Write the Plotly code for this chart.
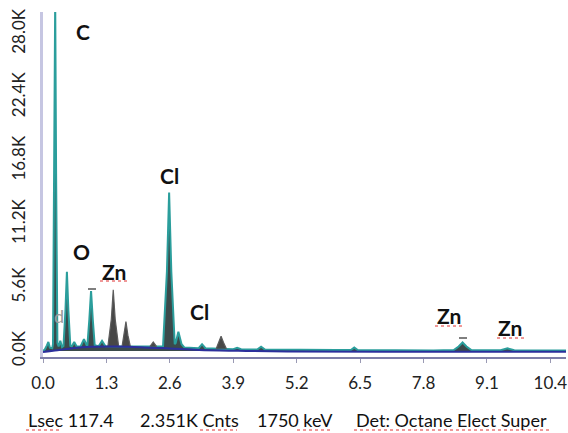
import plotly.graph_objects as go

# ---- data ----
energy_kev = [0.00, 0.04, 0.08, 0.11, 0.14, 0.19,
              0.205, 0.232, 0.25, 0.268, 0.295,
              0.32, 0.355, 0.39,
              0.42, 0.46, 0.49, 0.52, 0.56,
              0.59, 0.64, 0.69,
              0.77, 0.84, 0.90,
              0.91, 0.95, 0.985, 1.02, 1.06,
              1.14, 1.21, 1.28,
              1.60, 2.00, 2.40,
              2.46, 2.54, 2.585, 2.63, 2.70,
              2.72, 2.775, 2.84,
              2.90, 3.19, 3.26, 3.33,
              3.60, 3.90, 3.98, 4.06,
              4.39, 4.47, 4.55,
              5.00, 6.00, 6.31, 6.38, 6.45,
              7.00, 8.00, 8.42, 8.52, 8.60, 8.68, 8.78,
              9.38, 9.52, 9.66, 10.72]
counts = [0, 150, 500, 800, 300, 250,
          600, 16000, 31000, 16000, 700,
          400, 900, 350,
          450, 3600, 7000, 3600, 450,
          400, 800, 400,
          400, 1050, 450,
          500, 2800, 5300, 2800, 500,
          420, 900, 420,
          420, 400, 380,
          400, 7000, 14000, 7000, 600,
          700, 1700, 600,
          300, 250, 600, 250,
          200, 150, 280, 150,
          130, 380, 130,
          100, 80, 80, 300, 80,
          60, 50, 80, 400, 750, 400, 80,
          60, 230, 60, 40]

# grey (unlabelled) peaks, one closed shape each
grey_kev = [1.33, 1.40, 1.44, 1.48, 1.55, None,
            1.62, 1.66, 1.70, 1.74, 1.79, None,
            2.19, 2.26, 2.33, None,
            3.55, 3.60, 3.65, 3.70, 3.76]
grey_counts = [420, 2800, 5400, 2800, 420, None,
               400, 1400, 2600, 1400, 400, None,
               380, 800, 380, None,
               200, 750, 1300, 750, 200]

# background curve
bg_kev = [0.0, 0.3, 0.6, 1.0, 1.5, 2.0, 2.6, 3.2, 4.0, 5.0, 7.0, 10.72]
bg_counts = [-80, 60, 250, 370, 390, 340, 220, 90, 20, -40, -60, -70]

tick_kev = [0.0, 1.3, 2.6, 3.9, 5.2, 6.5, 7.8, 9.1, 10.4]
y_tickvals = [0, 5600, 11200, 16800, 22400, 28000]
y_ticktext = ["0.0K", "5.6K", "11.2K", "16.8K", "22.4K", "28.0K"]

peak_labels = ["C", "O", "Zn", "Cl", "Cl", "Zn", "Zn"]
label_kev = [0.81, 0.79, 1.445, 2.60, 3.20, 8.32, 9.57]
label_counts = [28200, 8800, 7050, 15500, 3500, 3150, 2080]

footer_texts = ["Lsec 117.4", "2.351K Cnts", "1750 keV", "Det: Octane Elect Super"]

# ---- layout helpers (pixel -> paper) ----
W, H = 568, 433
ML, MR, MT, MB = 43, 2, 12, 76
PW, PH = W - ML - MR, H - MT - MB
Y_RANGE = [-530, 29934]


def px(x):
    return (x - ML) / PW


def py(y):
    return (H - MB - y) / PH


FONT = "Lato, 'Open Sans', sans-serif"

fig = go.Figure()
fig.add_trace(go.Scatter(
    x=energy_kev, y=counts, mode="lines",
    line=dict(color="#2b9e9c", width=2),
    fill="tozeroy", fillcolor="#3b4a4b", hoverinfo="skip"))
fig.add_trace(go.Scatter(
    x=grey_kev, y=grey_counts, mode="lines",
    line=dict(color="#5c5c5c", width=1.2),
    fill="toself", fillcolor="#474747", hoverinfo="skip"))
fig.add_trace(go.Scatter(
    x=bg_kev, y=bg_counts, mode="lines", line_shape="spline",
    line=dict(color="#2c2f9c", width=2), hoverinfo="skip"))

for t, xk, yc in zip(peak_labels, label_kev, label_counts):
    fig.add_annotation(x=xk, y=yc, xref="x", yref="y", text="<b>" + t + "</b>",
                       showarrow=False, font=dict(family=FONT, size=21, color="#111"))

# faint grey glyph near the origin
fig.add_annotation(x=px(52), y=py(329), xref="paper", yref="paper", text="d",
                   showarrow=False, font=dict(family=FONT, size=18, color="#9a9a9a"))

footer_left = [26, 138, 255, 354]
for t, xl in zip(footer_texts, footer_left):
    fig.add_annotation(x=px(xl), y=py(420), xref="paper", yref="paper", text=t,
                       xanchor="left", yanchor="middle", showarrow=False,
                       font=dict(family=FONT, size=18, color="#111"))

# red spell-check squiggles
squiggles = [(100, 128, 281), (435, 463, 326), (497, 525, 338),
             (26, 62, 430), (200, 237, 430), (297, 331, 430), (354, 550, 430)]
for x0, x1, yy in squiggles:
    fig.add_shape(type="line", xref="paper", yref="paper",
                  x0=px(x0), x1=px(x1), y0=py(yy), y1=py(yy),
                  line=dict(color="#e03030", width=1, dash="dot"))

# small marks at peak tops
for x0, x1, yy in [(88, 96, 289), (459, 467, 338)]:
    fig.add_shape(type="line", xref="paper", yref="paper",
                  x0=px(x0), x1=px(x1), y0=py(yy), y1=py(yy),
                  line=dict(color="#555", width=1.5))

fig.update_layout(
    template="none",
    width=W, height=H, margin=dict(l=ML, r=MR, t=MT, b=MB, pad=0),
    paper_bgcolor="white", plot_bgcolor="white", showlegend=False,
    font=dict(family=FONT, size=17, color="#222"),
    xaxis=dict(range=[0, 10.72], tickvals=tick_kev,
               ticktext=["%.1f" % v for v in tick_kev],
               ticks="outside", ticklen=4, tickcolor="#9a9ab4",
               showline=True, linecolor="#7d7da8", linewidth=2,
               showgrid=False, zeroline=False, ticklabelstandoff=6,
               automargin=False,
               tickfont=dict(family=FONT, size=17, color="#222")),
    yaxis=dict(range=Y_RANGE, tickvals=y_tickvals, ticktext=y_ticktext,
               tickangle=-90, ticks="", showline=True, linecolor="#c6c6e2",
               linewidth=3, showgrid=False, zeroline=False,
               ticklabelstandoff=8, automargin=False,
               tickfont=dict(family=FONT, size=17, color="#222")),
)

fig.write_html("out.html", config={"displayModeBar": False},
               post_script="document.body.style.margin='0';document.body.style.overflow='hidden';")
